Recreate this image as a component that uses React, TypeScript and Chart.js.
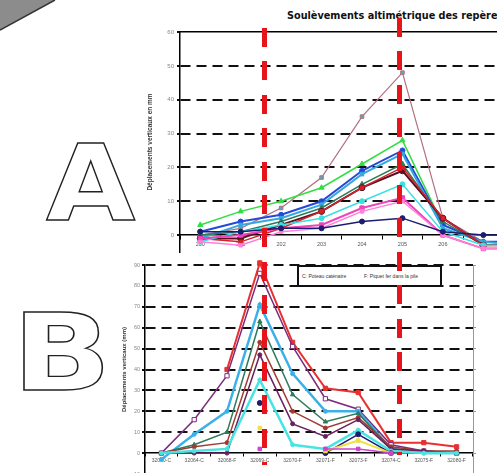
import React, { useEffect, useRef } from "react";
import { Chart, registerables } from "chart.js";

Chart.register(...registerables);

// ---------- Chart A data ----------
const yearsA = ["200", "201", "202", "203", "204", "205", "206", "207", "208"];
const ticksA = [0, 10, 20, 30, 40, 50, 60];
const aMauve = [0, 2, 8, 17, 35, 48, 5, -2, -2];
const aGreen = [3, 7, 10, 14, 21, 28, 3, -2, -2];
const aBlue = [1, 4, 6, 10, 19, 25, 3, -2, -2];
const aSky = [-1, 3, 5, 9, 18, 24, 2, -2, -3];
const aTeal = [0, 1, 4, 8, 15, 21, 4, -3, -3];
const aMaroon = [-1, -1, 3, 7, 14, 19, 5, -3, -3];
const aRed = [-1, -2, 2, 7, 14, 20, 5, -3, -3];
const aCyan = [-2, 1, 3, 5, 10, 15, 1, -3, -3];
const aMagenta = [-1, 0, 2, 3, 8, 11, 0, -4, -4];
const aPink = [-2, -3, 1, 2, 7, 10, 0, -4, -4];
const aNavy = [1, 1, 2, 2, 4, 5, 1, 0, 0];

// ---------- Chart B data ----------
const markersB = ["32050-C", "32064-C", "32068-F", "32069-C", "32070-F", "32071-F", "32073-F", "32074-C", "32075-F", "32080-F"];
const ticksB = [-10, 0, 10, 20, 30, 40, 50, 60, 70, 80, 90];
const bRed = [null, null, 40, 91, 53, 31, 29, 5, 5, 3];
const bPurple = [0, 16, 37, 86, 51, 26, 21, 4, 1, 0];
const bSky = [-3, 9, 20, 71, 38, 20, 20, 2, 0, 0];
const bTeal = [0, 4, 10, 63, 28, 15, 19, 2, 1, 0];
const bBrown = [0, 3, 5, 53, 20, 12, 17, 3, 1, 1];
const bPlum = [0, 0, 0, 47, 14, 8, 16, 2, 1, 0];
const bCyan = [0, 1, 2, 35, 4, 2, 11, 1, 0, 0];
const bNavy = [null, null, null, 24, null, 0, 9, 0, null, null];
const bYellow = [null, null, null, 12, null, 1, 6, 0, null, null];
const bMagenta = [null, null, null, 2, null, 2, 2, 0, null, null];

const titleA = "Soulèvements altimétrique des repères";
const yTitleA = "Déplacements verticaux en mm";
const yTitleB = "Déplacements verticaux (mm)";
const noteC = "C: Poteau caténaire";
const noteF = "F: Piquet fer dans la pile";

const FONT = "'Liberation Sans', Arial, sans-serif";

function ds(label: string, data: any[], color: string, width: number, style: string, radius: number, fill?: string) {
  return {
    label,
    data,
    borderColor: color,
    backgroundColor: fill || color,
    borderWidth: width,
    pointStyle: style,
    pointRadius: radius,
    pointBorderColor: color,
    pointBorderWidth: 1,
    pointBackgroundColor: fill || color,
    tension: 0,
    spanGaps: false,
    clip: 8,
  };
}

const transparent = "rgba(0,0,0,0)";

export default function App() {
  const refA = useRef<HTMLCanvasElement>(null);
  const refB = useRef<HTMLCanvasElement>(null);

  useEffect(() => {
    const chartA = new Chart(refA.current as HTMLCanvasElement, {
      type: "line",
      data: {
        labels: yearsA,
        datasets: [
          ds("navy", aNavy, "#1c1c70", 1.5, "circle", 2.5),
          ds("pink", aPink, "#ff80d8", 1.5, "rect", 2.5),
          ds("magenta", aMagenta, "#ee44bb", 2, "rect", 3),
          ds("cyan", aCyan, "#38e0e0", 1.5, "circle", 2.5),
          ds("red", aRed, "#d8202a", 1.5, "rect", 2.5),
          ds("maroon", aMaroon, "#5a1020", 2, "circle", 3),
          ds("teal", aTeal, "#2f7a5c", 1.5, "triangle", 3),
          ds("sky", aSky, "#36a8e0", 2, "rect", 2.5),
          ds("blue", aBlue, "#2448d8", 2, "circle", 2.5),
          ds("green", aGreen, "#33dd44", 1.5, "triangle", 3),
          ds("mauve", aMauve, "#b07080", 1.2, "rect", 2.5, "#58a8b8"),
        ],
      },
      options: {
        animation: false,
        responsive: false,
        maintainAspectRatio: false,
        layout: { padding: { top: 32, bottom: 8, left: 0, right: 0 } },
        plugins: { legend: { display: false }, tooltip: { enabled: false }, title: { display: false } },
        scales: {
          x: {
            type: "category",
            position: { y: 0 } as any,
            offset: true,
            grid: { display: true, drawOnChartArea: false, offset: true, tickLength: 4, color: "#000", lineWidth: 1 },
            border: { display: true, color: "#000", width: 1.5 },
            ticks: { font: { size: 5.5, family: FONT }, color: "#555", padding: 2, maxRotation: 0, autoSkip: false },
            afterFit: (s: any) => { s.height = 0; },
          },
          x2: {
            type: "category",
            labels: yearsA,
            position: "top",
            offset: true,
            grid: { display: false },
            border: { display: true, color: "#000", width: 1.6 },
            ticks: { display: false },
            afterFit: (s: any) => { s.height = 0; },
          },
          y: {
            min: -5,
            max: 60,
            position: "left",
            afterBuildTicks: (s: any) => { s.ticks = ticksA.map((v) => ({ value: v })); },
            grid: {
              color: (c: any) => (c.tick && (c.tick.value === 0 || c.tick.value === 60) ? transparent : "#111"),
              tickColor: "#111",
              lineWidth: 2,
              tickLength: 3,
            },
            border: { display: true, color: "#000", width: 1.5, dash: [10, 6] } as any,
            ticks: { font: { size: 6, family: FONT }, color: "#888", padding: 3 },
            title: { display: true, text: yTitleA, font: { size: 6.5, weight: "bold", family: FONT }, color: "#333" },
            afterFit: (s: any) => { s.width = 38; },
          },
        },
      },
    });

    const chartB = new Chart(refB.current as HTMLCanvasElement, {
      type: "line",
      data: {
        labels: markersB,
        datasets: [
          ds("magenta", bMagenta, "#cc44cc", 1.5, "rect", 2.5),
          ds("yellow", bYellow, "#f0e040", 2, "rect", 2.5),
          ds("navy", bNavy, "#1c1c70", 1.5, "circle", 2.5),
          ds("cyan", bCyan, "#48e4e4", 2.5, "circle", 2),
          ds("plum", bPlum, "#6a2060", 1.5, "circle", 2),
          ds("brown", bBrown, "#a03a30", 1.5, "circle", 2),
          ds("teal", bTeal, "#2f7a5c", 1.5, "triangle", 2.5),
          ds("sky", bSky, "#3ab0e8", 2.5, "circle", 2),
          ds("purple", bPurple, "#7b2d7b", 1.5, "rect", 3, "#ffffff"),
          ds("red", bRed, "#e83030", 2, "rect", 3),
        ],
      },
      options: {
        animation: false,
        responsive: false,
        maintainAspectRatio: false,
        layout: { padding: { top: 15, bottom: 16, left: 0, right: 0 } },
        plugins: { legend: { display: false }, tooltip: { enabled: false }, title: { display: false } },
        scales: {
          x: {
            type: "category",
            position: { y: 0 } as any,
            offset: true,
            grid: { display: true, drawOnChartArea: false, offset: true, tickLength: 3, color: "#000", lineWidth: 1 },
            border: { display: true, color: "#000", width: 1.5 },
            ticks: { font: { size: 5, family: FONT }, color: "#555", padding: 2, maxRotation: 0, autoSkip: false },
            afterFit: (s: any) => { s.height = 0; },
          },
          y: {
            min: -10,
            max: 90,
            position: "left",
            afterBuildTicks: (s: any) => { s.ticks = ticksB.map((v) => ({ value: v })); },
            grid: {
              color: (c: any) => (c.tick && (c.tick.value === 0 || c.tick.value === -10) ? transparent : "#111"),
              tickColor: "#111",
              lineWidth: 2,
              tickLength: 3,
            },
            border: { display: true, color: "#000", width: 1.5, dash: [10, 6] } as any,
            ticks: { font: { size: 5.5, family: FONT }, color: "#888", padding: 2 },
            title: { display: true, text: yTitleB, font: { size: 6, weight: "bold", family: FONT }, color: "#333" },
            afterFit: (s: any) => { s.width = 28; },
          },
          y2: {
            min: -10,
            max: 90,
            position: "right",
            afterBuildTicks: (s: any) => { s.ticks = ticksB.map((v) => ({ value: v })); },
            grid: { drawOnChartArea: false, tickLength: 3, color: "#999" },
            border: { display: true, color: "#999", width: 1 },
            ticks: { display: false },
            afterFit: (s: any) => { s.width = 4; },
          },
        },
      },
    });

    return () => {
      chartA.destroy();
      chartB.destroy();
    };
  }, []);

  const redLine = (left: number, top: number, height: number): React.CSSProperties => ({
    position: "absolute",
    left,
    top,
    width: 5,
    height,
    background: "repeating-linear-gradient(to bottom, #e8141c 0px, #e8141c 19px, transparent 19px, transparent 33.4px)",
  });

  return (
    <div style={{ position: "fixed", left: 0, top: 0, width: 497, height: 473, overflow: "hidden", background: "#fff", fontFamily: FONT }}>
      <svg width={497} height={473} style={{ position: "absolute", left: 0, top: 0 }}>
        <polygon points="0,0 55,0 0,30" fill="#8c8c8c" />
        <line x1={55} y1={0} x2={0} y2={30} stroke="#333" strokeWidth={1.5} />
        <g transform="translate(46,220) scale(1.09,1)">
          <text x={0} y={0} fontFamily="'DejaVu Sans', sans-serif" fontWeight="bold" fontSize={106} fill="#fff" stroke="#222" strokeWidth={1.3}>A</text>
        </g>
        <g transform="translate(12,390) scale(1.22,1)">
          <text x={0} y={0} fontFamily="'DejaVu Sans', sans-serif" fontWeight="bold" fontSize={107} fill="#fff" stroke="#222" strokeWidth={1.3}>B</text>
        </g>
      </svg>
      <div style={{ position: "absolute", left: 287, top: 10, fontFamily: "'DejaVu Sans', sans-serif", fontWeight: "bold", fontSize: 9.7, whiteSpace: "nowrap", color: "#111" }}>{titleA}</div>
      <canvas ref={refA} width={407} height={260} style={{ position: "absolute", left: 142, top: 0 }} />
      <canvas ref={refB} width={361} height={240} style={{ position: "absolute", left: 117, top: 250 }} />
      <div style={{ position: "absolute", left: 297, top: 265, width: 141, height: 18, border: "2px solid #111", background: "#fff", fontSize: 5, color: "#333", whiteSpace: "nowrap" }}>
        <span style={{ position: "absolute", left: 3, top: 6 }}>{noteC}</span>
        <span style={{ position: "absolute", left: 65, top: 6 }}>{noteF}</span>
      </div>
      <div style={redLine(262, 28, 437)} />
      <div style={redLine(397, 18, 437)} />
    </div>
  );
}
